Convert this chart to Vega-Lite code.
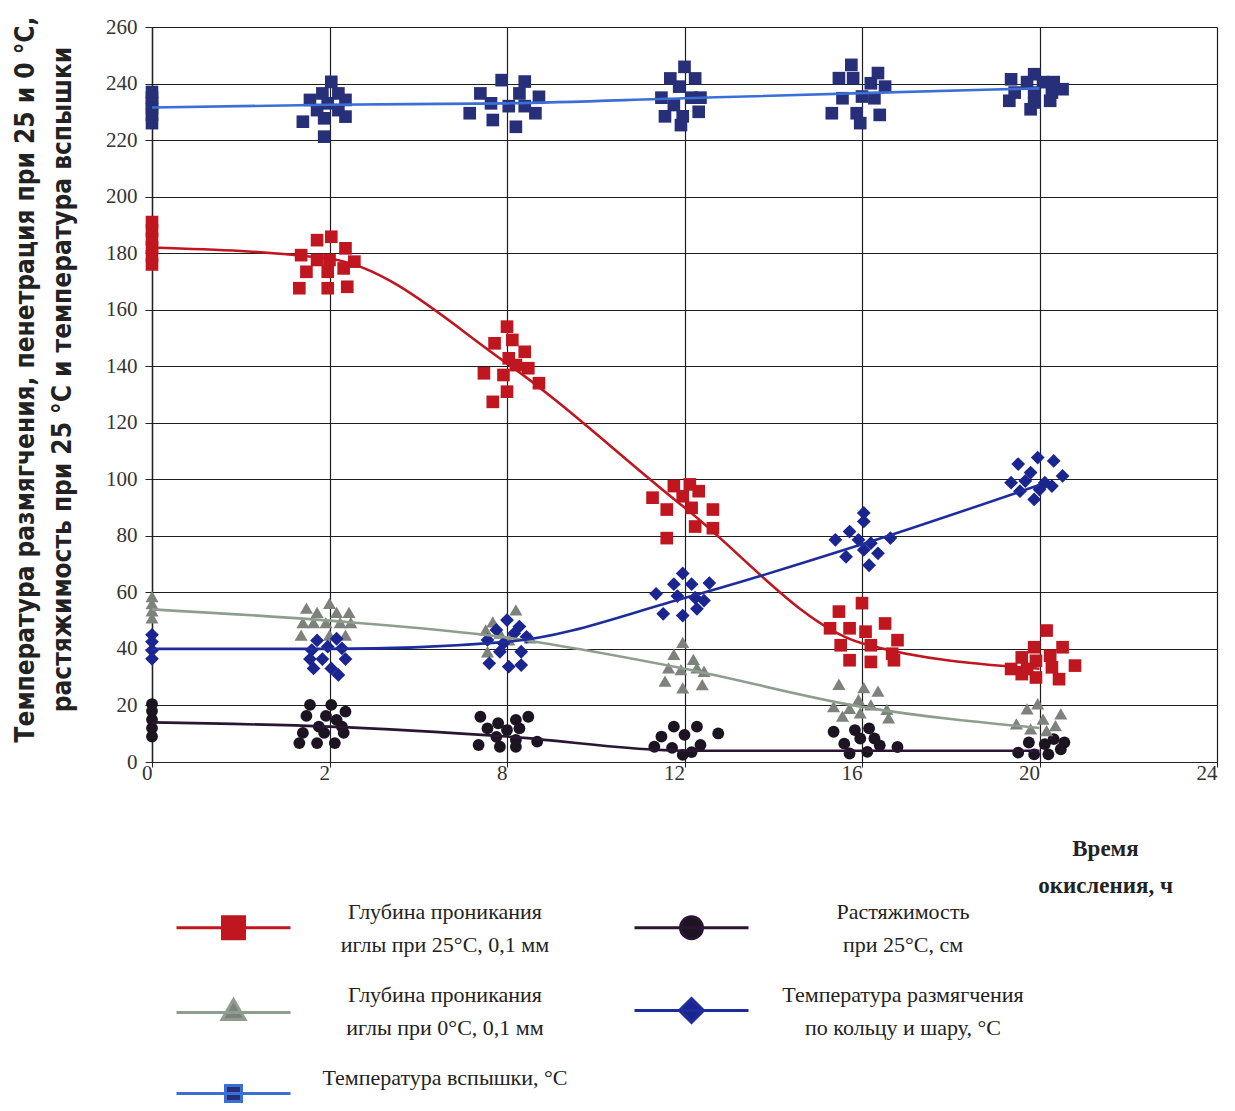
{
  "$schema": "https://vega.github.io/schema/vega-lite/v6.json",
  "width": 1065,
  "height": 735,
  "autosize": "none",
  "padding": {"left": 152, "top": 27, "right": 18, "bottom": 349},
  "background": "white",
  "config": {"view": {"stroke": null}, "font": "Liberation Serif"},
  "datasets": {
    "lines": [
      {"series": "pen25", "hour": 0, "value": 182}, {"series": "pen25", "hour": 2, "value": 178}, {"series": "pen25", "hour": 8, "value": 141}, {"series": "pen25", "hour": 12, "value": 90}, {"series": "pen25", "hour": 16, "value": 42}, {"series": "pen25", "hour": 20, "value": 33},
      {"series": "duct", "hour": 0, "value": 14}, {"series": "duct", "hour": 2, "value": 12.5}, {"series": "duct", "hour": 8, "value": 9}, {"series": "duct", "hour": 12, "value": 4}, {"series": "duct", "hour": 16, "value": 4}, {"series": "duct", "hour": 20, "value": 4},
      {"series": "pen0", "hour": 0, "value": 54}, {"series": "pen0", "hour": 2, "value": 50}, {"series": "pen0", "hour": 8, "value": 44}, {"series": "pen0", "hour": 12, "value": 33}, {"series": "pen0", "hour": 16, "value": 19.5}, {"series": "pen0", "hour": 20, "value": 12},
      {"series": "soft", "hour": 0, "value": 40}, {"series": "soft", "hour": 2, "value": 40}, {"series": "soft", "hour": 8, "value": 42.5}, {"series": "soft", "hour": 12, "value": 58}, {"series": "soft", "hour": 16, "value": 77}, {"series": "soft", "hour": 20, "value": 98},
      {"series": "flash", "hour": 0, "value": 231.5}, {"series": "flash", "hour": 2, "value": 232.5}, {"series": "flash", "hour": 8, "value": 233}, {"series": "flash", "hour": 12, "value": 234.8}, {"series": "flash", "hour": 16, "value": 236.6}, {"series": "flash", "hour": 20, "value": 238.3}
    ],
    "points": [
      {"series": "flash", "hour": 0, "jitter": 0, "value": 226}, {"series": "flash", "hour": 0, "jitter": 0, "value": 229}, {"series": "flash", "hour": 0, "jitter": 0, "value": 231}, {"series": "flash", "hour": 0, "jitter": 0, "value": 233}, {"series": "flash", "hour": 0, "jitter": 0, "value": 235}, {"series": "flash", "hour": 0, "jitter": 0, "value": 237},
      {"series": "pen25", "hour": 0, "jitter": 0, "value": 176}, {"series": "pen25", "hour": 0, "jitter": 0, "value": 179}, {"series": "pen25", "hour": 0, "jitter": 0, "value": 182}, {"series": "pen25", "hour": 0, "jitter": 0, "value": 185}, {"series": "pen25", "hour": 0, "jitter": 0, "value": 188}, {"series": "pen25", "hour": 0, "jitter": 0, "value": 191},
      {"series": "pen0", "hour": 0, "jitter": 0, "value": 51}, {"series": "pen0", "hour": 0, "jitter": 0, "value": 53.5}, {"series": "pen0", "hour": 0, "jitter": 0, "value": 56}, {"series": "pen0", "hour": 0, "jitter": 0, "value": 58.5},
      {"series": "soft", "hour": 0, "jitter": 0, "value": 36.5}, {"series": "soft", "hour": 0, "jitter": 0, "value": 39.5}, {"series": "soft", "hour": 0, "jitter": 0, "value": 42.5}, {"series": "soft", "hour": 0, "jitter": 0, "value": 45},
      {"series": "duct", "hour": 0, "jitter": 0, "value": 9}, {"series": "duct", "hour": 0, "jitter": 0, "value": 12}, {"series": "duct", "hour": 0, "jitter": 0, "value": 15}, {"series": "duct", "hour": 0, "jitter": 0, "value": 18}, {"series": "duct", "hour": 0, "jitter": 0, "value": 20.5},

      {"series": "flash", "hour": 2, "jitter": 0.01, "value": 240.6}, {"series": "flash", "hour": 2, "jitter": -0.04, "value": 236.5}, {"series": "flash", "hour": 2, "jitter": 0.05, "value": 236.5}, {"series": "flash", "hour": 2, "jitter": -0.11, "value": 234.2}, {"series": "flash", "hour": 2, "jitter": 0.09, "value": 234.2}, {"series": "flash", "hour": 2, "jitter": -0.01, "value": 233}, {"series": "flash", "hour": 2, "jitter": -0.07, "value": 230.6}, {"series": "flash", "hour": 2, "jitter": 0.05, "value": 230.6}, {"series": "flash", "hour": 2, "jitter": -0.15, "value": 226.5}, {"series": "flash", "hour": 2, "jitter": -0.03, "value": 227.7}, {"series": "flash", "hour": 2, "jitter": 0.09, "value": 228.3}, {"series": "flash", "hour": 2, "jitter": -0.03, "value": 221.2},
      {"series": "pen25", "hour": 2, "jitter": -0.07, "value": 184.6}, {"series": "pen25", "hour": 2, "jitter": 0.01, "value": 185.8}, {"series": "pen25", "hour": 2, "jitter": 0.09, "value": 181.7}, {"series": "pen25", "hour": 2, "jitter": -0.16, "value": 179.3}, {"series": "pen25", "hour": 2, "jitter": -0.07, "value": 177.6}, {"series": "pen25", "hour": 2, "jitter": 0, "value": 177.6}, {"series": "pen25", "hour": 2, "jitter": 0.14, "value": 177}, {"series": "pen25", "hour": 2, "jitter": -0.13, "value": 173.4}, {"series": "pen25", "hour": 2, "jitter": -0.01, "value": 173.4}, {"series": "pen25", "hour": 2, "jitter": 0.08, "value": 174.6}, {"series": "pen25", "hour": 2, "jitter": -0.17, "value": 167.6}, {"series": "pen25", "hour": 2, "jitter": -0.01, "value": 167.6}, {"series": "pen25", "hour": 2, "jitter": 0.1, "value": 168.1},
      {"series": "pen0", "hour": 2, "jitter": -0.13, "value": 54.4}, {"series": "pen0", "hour": 2, "jitter": 0, "value": 56.1}, {"series": "pen0", "hour": 2, "jitter": -0.07, "value": 52.9}, {"series": "pen0", "hour": 2, "jitter": 0.04, "value": 52.9}, {"series": "pen0", "hour": 2, "jitter": 0.11, "value": 52.9}, {"series": "pen0", "hour": 2, "jitter": -0.15, "value": 49.3}, {"series": "pen0", "hour": 2, "jitter": -0.09, "value": 49.3}, {"series": "pen0", "hour": 2, "jitter": -0.02, "value": 49.3}, {"series": "pen0", "hour": 2, "jitter": 0.06, "value": 49.3}, {"series": "pen0", "hour": 2, "jitter": 0.12, "value": 49.3}, {"series": "pen0", "hour": 2, "jitter": -0.16, "value": 44.9}, {"series": "pen0", "hour": 2, "jitter": 0, "value": 44.9}, {"series": "pen0", "hour": 2, "jitter": 0.09, "value": 44.9},
      {"series": "soft", "hour": 2, "jitter": -0.1, "value": 39.6}, {"series": "soft", "hour": 2, "jitter": -0.01, "value": 40.8}, {"series": "soft", "hour": 2, "jitter": 0.07, "value": 40.2}, {"series": "soft", "hour": 2, "jitter": -0.11, "value": 36.4}, {"series": "soft", "hour": 2, "jitter": -0.04, "value": 36.4}, {"series": "soft", "hour": 2, "jitter": 0.09, "value": 36.4}, {"series": "soft", "hour": 2, "jitter": -0.09, "value": 33.1}, {"series": "soft", "hour": 2, "jitter": 0.01, "value": 33.1}, {"series": "soft", "hour": 2, "jitter": 0.05, "value": 30.8}, {"series": "soft", "hour": 2, "jitter": -0.07, "value": 43}, {"series": "soft", "hour": 2, "jitter": 0.04, "value": 43.6},
      {"series": "duct", "hour": 2, "jitter": -0.11, "value": 20.2}, {"series": "duct", "hour": 2, "jitter": 0.01, "value": 20.2}, {"series": "duct", "hour": 2, "jitter": 0.09, "value": 17.8}, {"series": "duct", "hour": 2, "jitter": -0.13, "value": 16.3}, {"series": "duct", "hour": 2, "jitter": -0.02, "value": 16.3}, {"series": "duct", "hour": 2, "jitter": 0.04, "value": 14.9}, {"series": "duct", "hour": 2, "jitter": -0.06, "value": 12.5}, {"series": "duct", "hour": 2, "jitter": 0.07, "value": 12.5}, {"series": "duct", "hour": 2, "jitter": -0.15, "value": 10.3}, {"series": "duct", "hour": 2, "jitter": -0.03, "value": 10.3}, {"series": "duct", "hour": 2, "jitter": 0.08, "value": 10.3}, {"series": "duct", "hour": 2, "jitter": -0.17, "value": 6.7}, {"series": "duct", "hour": 2, "jitter": -0.07, "value": 6.7}, {"series": "duct", "hour": 2, "jitter": 0.03, "value": 6.7},

      {"series": "flash", "hour": 8, "jitter": -0.03, "value": 241.2}, {"series": "flash", "hour": 8, "jitter": 0.1, "value": 240.7}, {"series": "flash", "hour": 8, "jitter": -0.15, "value": 236.5}, {"series": "flash", "hour": 8, "jitter": 0.07, "value": 236.5}, {"series": "flash", "hour": 8, "jitter": 0.18, "value": 235.3}, {"series": "flash", "hour": 8, "jitter": -0.09, "value": 233}, {"series": "flash", "hour": 8, "jitter": 0.01, "value": 232}, {"series": "flash", "hour": 8, "jitter": 0.1, "value": 232}, {"series": "flash", "hour": 8, "jitter": -0.21, "value": 229.5}, {"series": "flash", "hour": 8, "jitter": 0.16, "value": 229.5}, {"series": "flash", "hour": 8, "jitter": -0.08, "value": 227.1}, {"series": "flash", "hour": 8, "jitter": 0.05, "value": 224.7},
      {"series": "pen25", "hour": 8, "jitter": 0, "value": 154}, {"series": "pen25", "hour": 8, "jitter": 0.03, "value": 149.3}, {"series": "pen25", "hour": 8, "jitter": -0.07, "value": 148.1}, {"series": "pen25", "hour": 8, "jitter": 0.1, "value": 145.1}, {"series": "pen25", "hour": 8, "jitter": 0.01, "value": 142.8}, {"series": "pen25", "hour": 8, "jitter": 0.05, "value": 140.4}, {"series": "pen25", "hour": 8, "jitter": 0.12, "value": 139.3}, {"series": "pen25", "hour": 8, "jitter": -0.13, "value": 137.5}, {"series": "pen25", "hour": 8, "jitter": -0.02, "value": 136.9}, {"series": "pen25", "hour": 8, "jitter": 0.18, "value": 134}, {"series": "pen25", "hour": 8, "jitter": 0, "value": 131}, {"series": "pen25", "hour": 8, "jitter": -0.08, "value": 127.4},
      {"series": "pen0", "hour": 8, "jitter": 0.05, "value": 53.8}, {"series": "pen0", "hour": 8, "jitter": -0.08, "value": 49.6}, {"series": "pen0", "hour": 8, "jitter": -0.12, "value": 46.7}, {"series": "pen0", "hour": 8, "jitter": -0.04, "value": 45.6}, {"series": "pen0", "hour": 8, "jitter": 0.13, "value": 43.9}, {"series": "pen0", "hour": 8, "jitter": 0.01, "value": 43.2}, {"series": "pen0", "hour": 8, "jitter": -0.11, "value": 39},
      {"series": "soft", "hour": 8, "jitter": 0, "value": 50.2}, {"series": "soft", "hour": 8, "jitter": 0.07, "value": 47.9}, {"series": "soft", "hour": 8, "jitter": -0.06, "value": 46.7}, {"series": "soft", "hour": 8, "jitter": 0.04, "value": 45.5}, {"series": "soft", "hour": 8, "jitter": 0.11, "value": 44.3}, {"series": "soft", "hour": 8, "jitter": -0.11, "value": 43.2}, {"series": "soft", "hour": 8, "jitter": -0.02, "value": 42}, {"series": "soft", "hour": 8, "jitter": -0.04, "value": 39}, {"series": "soft", "hour": 8, "jitter": 0.08, "value": 39}, {"series": "soft", "hour": 8, "jitter": -0.1, "value": 34.9}, {"series": "soft", "hour": 8, "jitter": 0.01, "value": 33.7}, {"series": "soft", "hour": 8, "jitter": 0.08, "value": 34.3},
      {"series": "duct", "hour": 8, "jitter": -0.15, "value": 16}, {"series": "duct", "hour": 8, "jitter": -0.05, "value": 13.7}, {"series": "duct", "hour": 8, "jitter": 0.05, "value": 14.9}, {"series": "duct", "hour": 8, "jitter": 0.12, "value": 16}, {"series": "duct", "hour": 8, "jitter": -0.11, "value": 11.9}, {"series": "duct", "hour": 8, "jitter": 0, "value": 11.3}, {"series": "duct", "hour": 8, "jitter": 0.07, "value": 11.9}, {"series": "duct", "hour": 8, "jitter": -0.06, "value": 8.9}, {"series": "duct", "hour": 8, "jitter": 0.05, "value": 7.8}, {"series": "duct", "hour": 8, "jitter": 0.17, "value": 7.2}, {"series": "duct", "hour": 8, "jitter": -0.16, "value": 6}, {"series": "duct", "hour": 8, "jitter": -0.04, "value": 5.4}, {"series": "duct", "hour": 8, "jitter": 0.05, "value": 5.4},

      {"series": "flash", "hour": 12, "jitter": 0, "value": 245.9}, {"series": "flash", "hour": 12, "jitter": -0.08, "value": 241.8}, {"series": "flash", "hour": 12, "jitter": 0.06, "value": 241.8}, {"series": "flash", "hour": 12, "jitter": -0.03, "value": 238.9}, {"series": "flash", "hour": 12, "jitter": -0.13, "value": 235}, {"series": "flash", "hour": 12, "jitter": 0.04, "value": 235}, {"series": "flash", "hour": 12, "jitter": 0.09, "value": 235}, {"series": "flash", "hour": 12, "jitter": -0.06, "value": 232.4}, {"series": "flash", "hour": 12, "jitter": 0.08, "value": 230}, {"series": "flash", "hour": 12, "jitter": -0.11, "value": 228.4}, {"series": "flash", "hour": 12, "jitter": -0.01, "value": 228.4}, {"series": "flash", "hour": 12, "jitter": -0.02, "value": 225.3},
      {"series": "pen25", "hour": 12, "jitter": -0.06, "value": 97.6}, {"series": "pen25", "hour": 12, "jitter": 0.03, "value": 98.2}, {"series": "pen25", "hour": 12, "jitter": 0.08, "value": 95.8}, {"series": "pen25", "hour": 12, "jitter": -0.18, "value": 93.5}, {"series": "pen25", "hour": 12, "jitter": -0.01, "value": 94}, {"series": "pen25", "hour": 12, "jitter": -0.1, "value": 89.3}, {"series": "pen25", "hour": 12, "jitter": 0.04, "value": 89.9}, {"series": "pen25", "hour": 12, "jitter": 0.16, "value": 89.3}, {"series": "pen25", "hour": 12, "jitter": 0.06, "value": 83.3}, {"series": "pen25", "hour": 12, "jitter": 0.16, "value": 82.7}, {"series": "pen25", "hour": 12, "jitter": -0.1, "value": 79.2},
      {"series": "soft", "hour": 12, "jitter": -0.01, "value": 66.7}, {"series": "soft", "hour": 12, "jitter": -0.06, "value": 62.9}, {"series": "soft", "hour": 12, "jitter": 0.04, "value": 62.9}, {"series": "soft", "hour": 12, "jitter": 0.14, "value": 63.3}, {"series": "soft", "hour": 12, "jitter": -0.16, "value": 59.5}, {"series": "soft", "hour": 12, "jitter": -0.04, "value": 58.7}, {"series": "soft", "hour": 12, "jitter": 0.06, "value": 58.1}, {"series": "soft", "hour": 12, "jitter": 0.11, "value": 57.1}, {"series": "soft", "hour": 12, "jitter": 0.07, "value": 54.2}, {"series": "soft", "hour": 12, "jitter": -0.12, "value": 52.4}, {"series": "soft", "hour": 12, "jitter": -0.01, "value": 51.8},
      {"series": "pen0", "hour": 12, "jitter": -0.01, "value": 42.3}, {"series": "pen0", "hour": 12, "jitter": -0.06, "value": 38.1}, {"series": "pen0", "hour": 12, "jitter": 0.05, "value": 36.3}, {"series": "pen0", "hour": 12, "jitter": -0.09, "value": 33.3}, {"series": "pen0", "hour": 12, "jitter": -0.02, "value": 32.7}, {"series": "pen0", "hour": 12, "jitter": 0.07, "value": 33.3}, {"series": "pen0", "hour": 12, "jitter": 0.11, "value": 32.1}, {"series": "pen0", "hour": 12, "jitter": -0.11, "value": 28.6}, {"series": "pen0", "hour": 12, "jitter": -0.01, "value": 26.2}, {"series": "pen0", "hour": 12, "jitter": 0.1, "value": 27.4},
      {"series": "duct", "hour": 12, "jitter": -0.06, "value": 12.5}, {"series": "duct", "hour": 12, "jitter": 0.07, "value": 12.5}, {"series": "duct", "hour": 12, "jitter": 0.19, "value": 10.1}, {"series": "duct", "hour": 12, "jitter": -0.13, "value": 9}, {"series": "duct", "hour": 12, "jitter": 0, "value": 9.6}, {"series": "duct", "hour": 12, "jitter": -0.07, "value": 5}, {"series": "duct", "hour": 12, "jitter": 0.09, "value": 6}, {"series": "duct", "hour": 12, "jitter": -0.17, "value": 5.4}, {"series": "duct", "hour": 12, "jitter": -0.01, "value": 2.5}, {"series": "duct", "hour": 12, "jitter": 0.04, "value": 3.5},

      {"series": "flash", "hour": 16, "jitter": -0.06, "value": 246.6}, {"series": "flash", "hour": 16, "jitter": 0.09, "value": 243.7}, {"series": "flash", "hour": 16, "jitter": -0.13, "value": 241.9}, {"series": "flash", "hour": 16, "jitter": -0.05, "value": 241.9}, {"series": "flash", "hour": 16, "jitter": 0.05, "value": 240.1}, {"series": "flash", "hour": 16, "jitter": 0.13, "value": 238.9}, {"series": "flash", "hour": 16, "jitter": -0.11, "value": 234.8}, {"series": "flash", "hour": 16, "jitter": 0, "value": 235.4}, {"series": "flash", "hour": 16, "jitter": 0.07, "value": 234.8}, {"series": "flash", "hour": 16, "jitter": -0.17, "value": 229.5}, {"series": "flash", "hour": 16, "jitter": -0.03, "value": 229.5}, {"series": "flash", "hour": 16, "jitter": 0.1, "value": 228.9}, {"series": "flash", "hour": 16, "jitter": -0.01, "value": 226},
      {"series": "soft", "hour": 16, "jitter": 0.01, "value": 88.1}, {"series": "soft", "hour": 16, "jitter": 0.01, "value": 85.1}, {"series": "soft", "hour": 16, "jitter": -0.07, "value": 81.5}, {"series": "soft", "hour": 16, "jitter": -0.15, "value": 78.6}, {"series": "soft", "hour": 16, "jitter": -0.02, "value": 78.6}, {"series": "soft", "hour": 16, "jitter": 0.16, "value": 79.2}, {"series": "soft", "hour": 16, "jitter": 0.05, "value": 77.4}, {"series": "soft", "hour": 16, "jitter": 0.01, "value": 75}, {"series": "soft", "hour": 16, "jitter": 0.09, "value": 73.8}, {"series": "soft", "hour": 16, "jitter": -0.09, "value": 72.6}, {"series": "soft", "hour": 16, "jitter": 0.04, "value": 69.6},
      {"series": "pen25", "hour": 16, "jitter": 0, "value": 56.2}, {"series": "pen25", "hour": 16, "jitter": -0.13, "value": 53.2}, {"series": "pen25", "hour": 16, "jitter": 0.13, "value": 49}, {"series": "pen25", "hour": 16, "jitter": -0.18, "value": 47.3}, {"series": "pen25", "hour": 16, "jitter": -0.07, "value": 47.3}, {"series": "pen25", "hour": 16, "jitter": 0.02, "value": 46.1}, {"series": "pen25", "hour": 16, "jitter": 0.2, "value": 43.1}, {"series": "pen25", "hour": 16, "jitter": -0.12, "value": 41.3}, {"series": "pen25", "hour": 16, "jitter": 0.05, "value": 41.3}, {"series": "pen25", "hour": 16, "jitter": 0.17, "value": 38.3}, {"series": "pen25", "hour": 16, "jitter": -0.07, "value": 36}, {"series": "pen25", "hour": 16, "jitter": 0.05, "value": 35.4}, {"series": "pen25", "hour": 16, "jitter": 0.18, "value": 36},
      {"series": "pen0", "hour": 16, "jitter": -0.13, "value": 27.5}, {"series": "pen0", "hour": 16, "jitter": 0.01, "value": 26.3}, {"series": "pen0", "hour": 16, "jitter": 0.09, "value": 25.1}, {"series": "pen0", "hour": 16, "jitter": -0.02, "value": 22.1}, {"series": "pen0", "hour": 16, "jitter": -0.16, "value": 19.6}, {"series": "pen0", "hour": 16, "jitter": -0.07, "value": 19}, {"series": "pen0", "hour": 16, "jitter": 0.05, "value": 20.2}, {"series": "pen0", "hour": 16, "jitter": 0.14, "value": 18.6}, {"series": "pen0", "hour": 16, "jitter": -0.01, "value": 17.4}, {"series": "pen0", "hour": 16, "jitter": -0.11, "value": 16.2}, {"series": "pen0", "hour": 16, "jitter": 0.15, "value": 15.6},
      {"series": "duct", "hour": 16, "jitter": -0.16, "value": 10.7}, {"series": "duct", "hour": 16, "jitter": -0.04, "value": 11.3}, {"series": "duct", "hour": 16, "jitter": 0.04, "value": 11.9}, {"series": "duct", "hour": 16, "jitter": 0.07, "value": 8.3}, {"series": "duct", "hour": 16, "jitter": -0.01, "value": 8.3}, {"series": "duct", "hour": 16, "jitter": -0.1, "value": 6.5}, {"series": "duct", "hour": 16, "jitter": 0.1, "value": 5.9}, {"series": "duct", "hour": 16, "jitter": 0.2, "value": 5.3}, {"series": "duct", "hour": 16, "jitter": -0.07, "value": 3}, {"series": "duct", "hour": 16, "jitter": 0.03, "value": 3.6},

      {"series": "flash", "hour": 20, "jitter": -0.03, "value": 243.3}, {"series": "flash", "hour": 20, "jitter": -0.16, "value": 241.5}, {"series": "flash", "hour": 20, "jitter": -0.07, "value": 240.5}, {"series": "flash", "hour": 20, "jitter": 0.02, "value": 240.5}, {"series": "flash", "hour": 20, "jitter": 0.08, "value": 240.5}, {"series": "flash", "hour": 20, "jitter": -0.14, "value": 236.8}, {"series": "flash", "hour": 20, "jitter": -0.03, "value": 236.8}, {"series": "flash", "hour": 20, "jitter": 0.07, "value": 236.8}, {"series": "flash", "hour": 20, "jitter": 0.13, "value": 238}, {"series": "flash", "hour": 20, "jitter": -0.17, "value": 233.9}, {"series": "flash", "hour": 20, "jitter": -0.03, "value": 233.3}, {"series": "flash", "hour": 20, "jitter": 0.06, "value": 233.9}, {"series": "flash", "hour": 20, "jitter": -0.05, "value": 230.9},
      {"series": "soft", "hour": 20, "jitter": -0.01, "value": 107.7}, {"series": "soft", "hour": 20, "jitter": 0.08, "value": 106.5}, {"series": "soft", "hour": 20, "jitter": -0.12, "value": 105.4}, {"series": "soft", "hour": 20, "jitter": -0.05, "value": 102.4}, {"series": "soft", "hour": 20, "jitter": 0.13, "value": 101.2}, {"series": "soft", "hour": 20, "jitter": -0.16, "value": 98.8}, {"series": "soft", "hour": 20, "jitter": -0.08, "value": 99.4}, {"series": "soft", "hour": 20, "jitter": 0.03, "value": 98.8}, {"series": "soft", "hour": 20, "jitter": 0.07, "value": 97.6}, {"series": "soft", "hour": 20, "jitter": 0, "value": 96.4}, {"series": "soft", "hour": 20, "jitter": -0.11, "value": 95.8}, {"series": "soft", "hour": 20, "jitter": -0.03, "value": 92.9},
      {"series": "pen25", "hour": 20, "jitter": 0.04, "value": 46.5}, {"series": "pen25", "hour": 20, "jitter": -0.03, "value": 40.6}, {"series": "pen25", "hour": 20, "jitter": 0.13, "value": 40.6}, {"series": "pen25", "hour": 20, "jitter": -0.1, "value": 37}, {"series": "pen25", "hour": 20, "jitter": 0.06, "value": 37.6}, {"series": "pen25", "hour": 20, "jitter": -0.02, "value": 35.8}, {"series": "pen25", "hour": 20, "jitter": -0.16, "value": 32.9}, {"series": "pen25", "hour": 20, "jitter": -0.07, "value": 32.9}, {"series": "pen25", "hour": 20, "jitter": 0.07, "value": 33.5}, {"series": "pen25", "hour": 20, "jitter": 0.2, "value": 34.1}, {"series": "pen25", "hour": 20, "jitter": -0.1, "value": 31.1}, {"series": "pen25", "hour": 20, "jitter": -0.02, "value": 29.9}, {"series": "pen25", "hour": 20, "jitter": 0.11, "value": 29.3},
      {"series": "pen0", "hour": 20, "jitter": -0.01, "value": 20.6}, {"series": "pen0", "hour": 20, "jitter": -0.07, "value": 18.8}, {"series": "pen0", "hour": 20, "jitter": 0.12, "value": 17}, {"series": "pen0", "hour": 20, "jitter": 0.02, "value": 15.2}, {"series": "pen0", "hour": 20, "jitter": -0.13, "value": 13.5}, {"series": "pen0", "hour": 20, "jitter": 0.09, "value": 12.9}, {"series": "pen0", "hour": 20, "jitter": -0.05, "value": 11.7}, {"series": "pen0", "hour": 20, "jitter": 0.04, "value": 11.1},
      {"series": "duct", "hour": 20, "jitter": 0.08, "value": 8.1}, {"series": "duct", "hour": 20, "jitter": 0.14, "value": 6.9}, {"series": "duct", "hour": 20, "jitter": -0.06, "value": 6.9}, {"series": "duct", "hour": 20, "jitter": 0.03, "value": 6.3}, {"series": "duct", "hour": 20, "jitter": 0.12, "value": 4.5}, {"series": "duct", "hour": 20, "jitter": -0.12, "value": 3.3}, {"series": "duct", "hour": 20, "jitter": -0.03, "value": 2.7}, {"series": "duct", "hour": 20, "jitter": 0.05, "value": 2.7}
    ]
  },
  "layer": [
    {
      "data": {"name": "points"},
      "encoding": {
        "x": {"field": "hour", "type": "ordinal", "scale": {"type": "point", "domain": [0, 2, 8, 12, 16, 20, 24], "padding": 0}},
        "xOffset": {"field": "jitter", "type": "quantitative", "scale": {"domain": [-1, 1], "range": [-177.5, 177.5]}},
        "y": {"field": "value", "type": "quantitative", "scale": {"domain": [0, 260]}},
        "fill": {
          "field": "series", "type": "nominal",
          "scale": {"domain": ["pen25", "duct", "pen0", "soft", "flash"], "range": ["#c0161f", "#1c1420", "#7d827d", "#1b2590", "#262f78"]}
        }
      },
      "layer": [
        {"transform": [{"filter": {"field": "series", "oneOf": ["pen25", "flash"]}}], "mark": {"type": "point", "shape": "square", "filled": true, "opacity": 1, "size": 160, "strokeWidth": 0}},
        {"transform": [{"filter": {"field": "series", "equal": "duct"}}], "mark": {"type": "point", "shape": "circle", "filled": true, "opacity": 1, "size": 140, "strokeWidth": 0}},
        {"transform": [{"filter": {"field": "series", "equal": "pen0"}}], "mark": {"type": "point", "shape": "triangle-up", "filled": true, "opacity": 1, "size": 170, "strokeWidth": 0}},
        {"transform": [{"filter": {"field": "series", "equal": "soft"}}], "mark": {"type": "point", "shape": "diamond", "filled": true, "opacity": 1, "size": 190, "strokeWidth": 0}}
      ]
    },
    {
      "data": {"name": "lines"},
      "mark": {"type": "point", "filled": true, "opacity": 0},
      "encoding": {
        "x": {"field": "hour", "type": "ordinal"},
        "y": {"field": "value", "type": "quantitative"},
        "fill": {"field": "series", "type": "nominal"},
        "shape": {
          "field": "series", "type": "nominal",
          "scale": {
            "domain": ["pen25", "duct", "pen0", "soft", "flash"],
            "range": [
              "M-5.7,0H5.7M-1.1,-1.1H1.1V1.1H-1.1Z",
              "M-5.7,0H5.7M-1.1,0A1.1,1.1,0,1,1,1.1,0A1.1,1.1,0,1,1,-1.1,0Z",
              "M-5.7,0.2H5.7M0,-1.1L1.15,0.9H-1.15Z",
              "M-5.7,0H5.7M0,-1.2L1.2,0L0,1.2L-1.2,0Z",
              "M-5.7,0H5.7M-0.8,-0.8H0.8V0.8H-0.8Z"
            ]
          }
        }
      }
    },
    {
      "data": {"name": "lines"},
      "mark": {"type": "line", "interpolate": "monotone", "strokeWidth": 2.6},
      "encoding": {
        "x": {
          "field": "hour", "type": "ordinal",
          "scale": {"type": "point", "domain": [0, 2, 8, 12, 16, 20, 24], "padding": 0},
          "axis": {
            "labelAngle": 0, "labelFont": "Liberation Serif", "labelFontSize": 21, "labelColor": "#333", "labelPadding": 6,
            "grid": true, "gridColor": "#1e1e1e", "gridWidth": 1.2,
            "domainColor": "#222", "domainWidth": 1.2, "tickColor": "#222", "tickSize": 5,
            "title": ["Время", "окисления, ч"],
            "titleFont": "Liberation Serif", "titleFontWeight": "bold", "titleFontSize": 23, "titleColor": "#222",
            "titleX": 953, "titleY": 75, "titleAlign": "center", "titleBaseline": "top", "titleLineHeight": 37
          }
        },
        "y": {
          "field": "value", "type": "quantitative",
          "scale": {"domain": [0, 260]},
          "axis": {
            "values": [0, 20, 40, 60, 80, 100, 120, 140, 160, 180, 200, 220, 240, 260],
            "labelFont": "Liberation Serif", "labelFontSize": 21, "labelColor": "#333", "labelPadding": 8,
            "grid": true, "gridColor": "#1e1e1e", "gridWidth": 1.2,
            "domainColor": "#222", "domainWidth": 1.4, "tickColor": "#222", "tickSize": 7,
            "title": ["Температура размягчения, пенетрация при 25 и 0 °С,", "растяжимость при 25 °С и температура вспышки"],
            "titleFont": "'Liberation Sans Narrow', 'DejaVu Sans Condensed', 'Liberation Sans', sans-serif",
            "titleFontWeight": "bold", "titleFontSize": 26, "titleColor": "#222", "titleLimit": 2000,
            "titleAngle": 270, "titleX": -127, "titleY": 352, "titleAlign": "center", "titleBaseline": "middle", "titleLineHeight": 37
          }
        },
        "color": {
          "field": "series", "type": "nominal",
          "scale": {"domain": ["pen25", "duct", "pen0", "soft", "flash"], "range": ["#c0161f", "#2a1632", "#8e9e8e", "#1f2d9c", "#3b6fd6"]},
          "legend": {
            "orient": "none", "legendX": 70, "legendY": 889,
            "direction": "horizontal",
            "columns": 2, "columnPadding": 60, "rowPadding": 27,
            "title": null,
            "symbolSize": 400, "symbolStrokeWidth": 3, "symbolOpacity": 1,
            "labelFont": "Liberation Serif", "labelFontSize": 22, "labelColor": "#222", "labelLimit": 600,
            "labelAlign": "center", "labelBaseline": "middle", "labelOffset": 200,
            "labelExpr": "{'pen25': ['Глубина проникания', 'иглы при 25°С, 0,1 мм'], 'duct': ['Растяжимость', 'при 25°С, см'], 'pen0': ['Глубина проникания', 'иглы при 0°С, 0,1 мм'], 'soft': ['Температура размягчения', 'по кольцу и шару, °С'], 'flash': 'Температура вспышки, °С'}[datum.value]",
            "encoding": {
              "labels": {
                "lineHeight": {"value": 33},
                "dy": {"value": -16}
              }
            }
          }
        }
      }
    }
  ]
}
